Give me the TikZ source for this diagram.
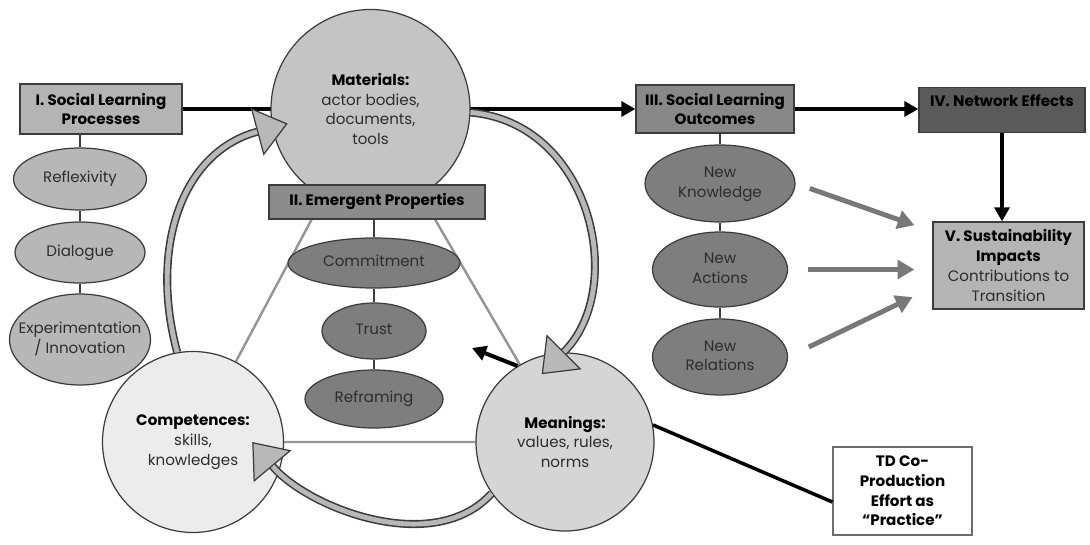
\documentclass[tikz,border=0pt]{standalone}
\usepackage{fontspec}
\setmainfont{Poppins}
\usepackage{tikz}
\usetikzlibrary{shapes.geometric,arrows.meta,calc,backgrounds}
\definecolor{edgedark}{RGB}{60,60,60}
\definecolor{inkdark}{RGB}{45,45,45}
\definecolor{boxlight}{RGB}{180,180,180}
\definecolor{ovallight}{RGB}{183,183,183}
\definecolor{matgray}{RGB}{196,196,196}
\definecolor{emergray}{RGB}{140,140,140}
\definecolor{ovalmid}{RGB}{126,126,126}
\definecolor{compgray}{RGB}{236,236,236}
\definecolor{meangray}{RGB}{213,213,213}
\definecolor{outgray}{RGB}{136,136,136}
\definecolor{netgray}{RGB}{90,90,90}
\definecolor{sustgray}{RGB}{180,180,180}
\definecolor{bandgray}{RGB}{184,184,184}
\definecolor{triline}{RGB}{150,150,150}
\definecolor{arrowgray}{RGB}{120,120,120}
\definecolor{tdedge}{RGB}{110,110,110}
\newcommand{\head}[1]{\textcolor{black}{\textbf{#1}}}
\newcommand{\ovaltext}[1]{\makebox[0pt]{\begin{tabular}{@{}c@{}}#1\end{tabular}}}
\newcommand{\bandarrow}[1]{\draw[bandedge] #1; \draw[bandcore] #1;}

\begin{document}
\begin{tikzpicture}[
    every node/.style={font=\fontsize{8.6}{11.2}\selectfont, text=inkdark, align=center},
    stagebox/.style={draw=edgedark, line width=0.7pt, inner sep=2pt},
    oval/.style={ellipse, draw=edgedark, line width=0.7pt, inner sep=0pt},
    bigcirc/.style={circle, draw=edgedark, line width=0.7pt, inner sep=0pt},
    link/.style={edgedark, line width=0.7pt},
    frame/.style={triline, line width=1.4pt},
    blackarrow/.style={black, line width=2.3pt, -{Triangle[length=8pt,width=8.5pt]}},
    grayarrow/.style={arrowgray, line width=2.8pt, -{Triangle[length=9.5pt,width=10.5pt]}},
    bandedge/.style={edgedark, line width=4.6pt, -{Triangle[length=18pt,width=28pt,line width=0.7pt 0,fill=bandgray]}},
    bandcore/.style={bandgray, line width=2.8pt, shorten >=18pt}
]
    \useasboundingbox (0,0) rectangle (21.8,10.88);

    % I. processes column
    \node[stagebox, fill=boxlight, minimum width=3.24cm, minimum height=1.0cm] (procs) at (2.02,8.7) {\head{I. Social Learning}\\\head{Processes}};
    \node[oval, fill=ovallight, minimum width=2.66cm, minimum height=1.24cm] (reflex) at (1.6,7.3) {\ovaltext{Reflexivity}};
    \node[oval, fill=ovallight, minimum width=2.6cm, minimum height=1.22cm] (dialog) at (1.6,5.83) {\ovaltext{Dialogue}};
    \node[oval, fill=ovallight, minimum width=2.82cm, minimum height=1.82cm] (experi) at (1.6,4.09) {\ovaltext{Experimentation\\/ Innovation}};

    % practice circles
    \node[bigcirc, fill=matgray, minimum size=3.98cm] (mater) at (7.41,8.7) {\head{Materials:}\\actor bodies,\\documents,\\tools};
    \node[bigcirc, fill=compgray, minimum size=3.62cm] (comp) at (3.86,2.04) {\head{Competences:}\\skills,\\knowledges};
    \node[bigcirc, fill=meangray, minimum size=3.56cm] (mean) at (11.3,2.04) {\head{Meanings:}\\values, rules,\\norms};

    % II. emergent properties
    \node[stagebox, fill=emergray, minimum width=4.32cm, minimum height=0.68cm] (emerge) at (7.54,6.84) {\head{II. Emergent Properties}};
    \node[oval, fill=ovalmid, minimum width=3.44cm, minimum height=1.0cm] (commit) at (7.48,5.62) {\ovaltext{Commitment}};
    \node[oval, fill=ovalmid, minimum width=2.08cm, minimum height=1.12cm] (trust) at (7.48,4.26) {\ovaltext{Trust}};
    \node[oval, fill=ovalmid, minimum width=2.76cm, minimum height=1.16cm] (refram) at (7.48,2.9) {\ovaltext{Reframing}};
    \coordinate (pull) at (9.44,3.92);

    % III. outcomes column
    \node[stagebox, fill=outgray, minimum width=3.16cm, minimum height=0.96cm] (outs) at (14.3,8.7) {\head{III. Social Learning}\\\head{Outcomes}};
    \node[oval, fill=ovalmid, minimum width=3.0cm, minimum height=1.54cm] (know) at (14.4,7.21) {\ovaltext{New\\Knowledge}};
    \node[oval, fill=ovalmid, minimum width=2.7cm, minimum height=1.5cm] (acts) at (14.4,5.49) {\ovaltext{New\\Actions}};
    \node[oval, fill=ovalmid, minimum width=2.7cm, minimum height=1.52cm] (rels) at (14.4,3.74) {\ovaltext{New\\Relations}};

    % IV. and V.
    \node[stagebox, fill=netgray, minimum width=3.32cm, inner ysep=3pt, text height=7.8pt, text depth=12.2pt] (netw) at (20.04,8.68) {\head{IV. Network Effects}};
    \node[stagebox, fill=sustgray, minimum width=3.02cm, minimum height=1.74cm] (sust) at (20.17,5.57) {\head{V. Sustainability}\\\head{Impacts}\\Contributions to\\Transition};
    \node[stagebox, draw=tdedge, fill=white, minimum width=2.78cm, minimum height=1.76cm] (tdbox) at (18.05,1.06) {\head{TD Co-}\\\head{Production}\\\head{Effort as}\\\head{“Practice”}};

    \begin{scope}[on background layer]
        \fill[white] (0,0) rectangle (21.8,10.88);
        \draw[frame] (mater) -- (comp) -- (mean) -- (mater);
        \draw[blackarrow] (procs) -- (outs);
    \end{scope}

    % tree links
    \draw[link] (procs.south -| reflex) -- (reflex) -- (dialog) -- (experi);
    \draw[link] (emerge.south -| commit) -- (commit) -- (trust) -- (refram);
    \draw[link] (outs.south -| know) -- (know) -- (acts) -- (rels);

    % flow arrows
    \draw[blackarrow] (outs.east) -- (outs.east -| netw.west);
    \draw[blackarrow] (netw.south) -- (netw.south |- sust.north);
    \draw[grayarrow, shorten <=0.3cm, shorten >=0.38cm] (know.east) -- ([yshift=0.68cm]sust.west);
    \draw[grayarrow, shorten <=0.4cm, shorten >=0.36cm] (acts.east) -- (acts.east -| sust.west);
    \draw[grayarrow, shorten <=0.46cm, shorten >=0.44cm] (rels.east) -- ([yshift=-0.44cm]sust.west);
    \draw[blackarrow] (mean.122) -- (pull);
    \draw[black, line width=2pt] (mean.11) -- ([yshift=-0.22cm]tdbox.west);

    % practice cycle
    \bandarrow{(comp.100) to[out=105,in=195,looseness=1.1] ($(mater.190)!0.16!(mater)$)}
    \bandarrow{(mater.-2) to[out=-5,in=45,looseness=1.15] ($(mean.109)!0.2!(mean)$)}
    \bandarrow{(mean.215) to[out=228,in=-50,looseness=0.9] ($(comp.east)!0.35!(comp)$)}
\end{tikzpicture}
\end{document}
